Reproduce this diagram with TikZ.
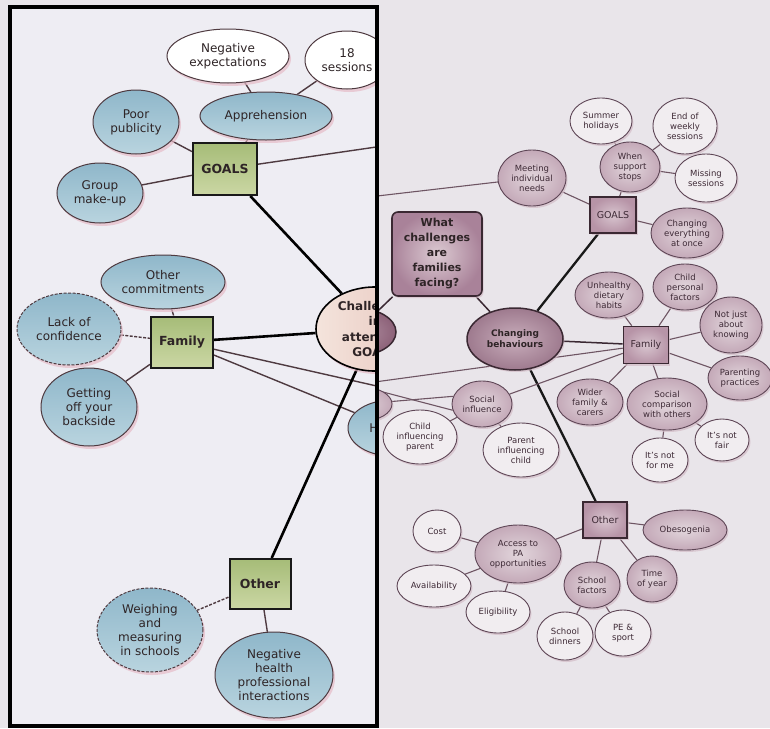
\documentclass[tikz,border=0pt]{standalone}
\usepackage{fontspec}
\setmainfont{DejaVu Sans}
\usetikzlibrary{shapes.geometric,shadows}

% page and panel
\definecolor{pageR}{HTML}{E9E5EA}
\definecolor{pageL}{HTML}{EEEDF3}
% left map
\definecolor{blueA}{HTML}{8FB7CA}
\definecolor{blueB}{HTML}{B9D4DF}
\definecolor{greenA}{HTML}{A6BC78}
\definecolor{greenB}{HTML}{CBD7A4}
\definecolor{inkL}{HTML}{2E2426}
\definecolor{edgeL}{HTML}{4E3A40}
\definecolor{shadeL}{HTML}{E6BCC8}
\definecolor{creamA}{HTML}{F4E4DC}
\definecolor{creamB}{HTML}{E6C2BA}
% right map
\definecolor{rEdge}{HTML}{5E4656}
\definecolor{rDark}{HTML}{3A2832}
\definecolor{inkR}{HTML}{3E2A36}
\definecolor{whiteR}{HTML}{F1EDF0}
\definecolor{mauveL}{HTML}{E2D6DC}
\definecolor{mauveM}{HTML}{C4A9B8}
\definecolor{sqIn}{HTML}{D8C5CF}
\definecolor{sqOut}{HTML}{B794A7}
\definecolor{whatIn}{HTML}{DCCAD2}
\definecolor{whatOut}{HTML}{A98299}
\definecolor{behIn}{HTML}{C9AEBC}
\definecolor{behOut}{HTML}{9E7A8E}
\definecolor{hidIn}{HTML}{B594A6}
\definecolor{hidOut}{HTML}{8C6178}
\definecolor{shadeR}{HTML}{D3BCC7}
\definecolor{lineR}{HTML}{6E5563}

\pgfdeclarelayer{rlines}
\pgfdeclarelayer{rnodes}
\pgfdeclarelayer{panel}
\pgfdeclarelayer{llines}
\pgfsetlayers{rlines,rnodes,panel,llines,main}

\begin{document}
\begin{tikzpicture}[x=1pt,y=-1pt,
  sz/.style 2 args={minimum width=#1pt,minimum height=#2pt},
  lbase/.style={ellipse,inner sep=0pt,align=center,draw=edgeL,line width=1pt,
    text=inkL,font=\fontsize{12}{14}\selectfont,
    drop shadow={shadow xshift=2pt,shadow yshift=-3pt,fill=shadeL,opacity=.7}},
  lblue/.style={lbase,top color=blueA,bottom color=blueB},
  lwhite/.style={lbase,fill=white},
  ldash/.style={dash pattern=on 3pt off 1.5pt},
  lsquare/.style={rectangle,inner sep=0pt,draw=black!90,line width=2pt,
    top color=greenA,bottom color=greenB,text=inkL,
    font=\bfseries\fontsize{12.5}{14}\selectfont},
  lthin/.style={draw=edgeL,line width=1.4pt},
  lthick/.style={draw=black,line width=2.6pt},
  rbase/.style={ellipse,inner sep=0pt,align=center,draw=rEdge,line width=.9pt,
    text=inkR,font=\fontsize{8.5}{10}\selectfont,
    drop shadow={shadow xshift=1.5pt,shadow yshift=-2pt,fill=shadeR,opacity=.7}},
  rwhite/.style={rbase,fill=whiteR},
  rlight/.style={rbase,inner color=mauveL,outer color=mauveM},
  rsquare/.style={rectangle,inner sep=0pt,draw=rDark,line width=1.6pt,
    inner color=sqIn,outer color=sqOut,text=inkR,
    font=\fontsize{9.5}{11}\selectfont,
    drop shadow={shadow xshift=1.5pt,shadow yshift=-2pt,fill=shadeR,opacity=.7}},
  rthin/.style={draw=lineR,line width=1.1pt},
  rmid/.style={draw=rDark,line width=1.5pt},
  rthick/.style={draw=black!90,line width=2.3pt}
]
\useasboundingbox (0,0) rectangle (770,728);

\begin{pgfonlayer}{rlines}
  \fill[pageR] (0,0) rectangle (770,728);
\end{pgfonlayer}

% ---------------- right-hand map ----------------
\begin{pgfonlayer}{rnodes}
  \node[ellipse,draw=rDark,line width=1.5pt,inner color=hidIn,outer color=hidOut,sz={80}{48}] (hidCore) at (356,332) {};
  \node[rlight,sz={60}{34}] (hidSide) at (362,404) {};

  \node[rectangle,rounded corners=6pt,draw=rDark,line width=1.6pt,inner color=whatIn,outer color=whatOut,
        sz={90}{84},align=center,text=inkL,font=\bfseries\fontsize{11}{15}\selectfont,
        drop shadow={shadow xshift=1.5pt,shadow yshift=-2pt,fill=shadeR,opacity=.7}]
        (what) at (437,254) {What\\challenges\\are\\families\\facing?};
  \node[ellipse,draw=rDark,line width=1.5pt,inner color=behIn,outer color=behOut,sz={96}{62},
        align=center,text=inkL,font=\bfseries\fontsize{9}{11}\selectfont,
        drop shadow={shadow xshift=1.5pt,shadow yshift=-2pt,fill=shadeR,opacity=.7}]
        (beh) at (515,339) {Changing\\behaviours};

  \node[rsquare,sz={46}{36}] (goalsR) at (613,215) {GOALS};
  \node[rlight,sz={68}{56}] (meet) at (532,178) {Meeting\\individual\\needs};
  \node[rlight,sz={60}{50}] (when) at (630,167) {When\\support\\stops};
  \node[rwhite,sz={62}{46}] (summer) at (601,121) {Summer\\holidays};
  \node[rwhite,sz={64}{56}] (endw) at (685,126) {End of\\weekly\\sessions};
  \node[rwhite,sz={62}{48}] (missing) at (706,178) {Missing\\sessions};
  \node[rlight,sz={72}{50}] (chall2) at (687,233) {Changing\\everything\\at once};

  \node[rsquare,sz={45}{37}] (famR) at (646,345) {Family};
  \node[rlight,sz={68}{46}] (diet) at (609,295) {Unhealthy\\dietary\\habits};
  \node[rlight,sz={64}{46}] (childp) at (685,287) {Child\\personal\\factors};
  \node[rlight,sz={62}{56}] (notjust) at (731,325) {Not just\\about\\knowing};
  \node[rlight,sz={64}{44}] (parent) at (740,378) {Parenting\\practices};
  \node[rlight,sz={80}{52}] (compare) at (667,404) {Social\\comparison\\with others};
  \node[rlight,sz={66}{46}] (wider) at (590,402) {Wider\\family \&\\carers};
  \node[rwhite,sz={54}{42}] (notfair) at (722,440) {It's not\\fair};
  \node[rwhite,sz={56}{44}] (notme) at (660,460) {It's not\\for me};
  \node[rlight,sz={60}{46}] (social) at (482,404) {Social\\influence};
  \node[rwhite,sz={74}{54}] (childinf) at (420,437) {Child\\influencing\\parent};
  \node[rwhite,sz={76}{54}] (parinf) at (521,450) {Parent\\influencing\\child};

  \node[rsquare,sz={44}{36}] (otherR) at (605,520) {Other};
  \node[rlight,sz={84}{40}] (obeso) at (685,530) {Obesogenia};
  \node[rlight,sz={86}{58}] (access) at (518,554) {Access to\\PA\\opportunities};
  \node[rwhite,sz={48}{42}] (cost) at (437,531) {Cost};
  \node[rwhite,sz={74}{42}] (avail) at (434,586) {Availability};
  \node[rwhite,sz={64}{42}] (elig) at (498,612) {Eligibility};
  \node[rlight,sz={56}{46}] (school) at (592,585) {School\\factors};
  \node[rlight,sz={50}{46}] (time) at (652,579) {Time\\of year};
  \node[rwhite,sz={56}{48}] (dinners) at (565,636) {School\\dinners};
  \node[rwhite,sz={56}{46}] (pe) at (623,633) {PE \&\\sport};
\end{pgfonlayer}

\coordinate (meetEnd) at (360,198);
\coordinate (famEndA) at (360,384);
\coordinate (famEndC) at (360,386);

\begin{pgfonlayer}{rlines}
  \draw[rthin] (meet) -- (meetEnd);
  \draw[rmid] (what) -- (hidCore);
  \draw[rmid] (what) -- (beh);
  \draw[rthick] (beh) -- (goalsR);
  \draw[rmid] (beh) -- (famR);
  \draw[rthick] (beh) -- (otherR);

  \draw[rthin] (goalsR) -- (meet);
  \draw[rthin] (goalsR) -- (when);
  \draw[rthin] (goalsR) -- (chall2);
  \draw[rthin] (when) -- (summer);
  \draw[rthin] (when) -- (endw);
  \draw[rthin] (when) -- (missing);

  \draw[rthin] (famR) -- (diet);
  \draw[rthin] (famR) -- (childp);
  \draw[rthin] (famR) -- (notjust);
  \draw[rthin] (famR) -- (parent);
  \draw[rthin] (famR) -- (compare);
  \draw[rthin] (famR) -- (wider);
  \draw[rthin] (famR) -- (famEndA);
  \draw[rthin] (famR) -- (social);
  \draw[rthin] (compare) -- (notfair);
  \draw[rthin] (compare) -- (notme);
  \draw[rthin] (famEndC) -- (social.192);
  \draw[rthin] (hidSide) -- (social.165);
  \draw[rthin] (social) -- (childinf);
  \draw[rthin] (social) -- (parinf);

  \draw[rthin] (otherR) -- (obeso);
  \draw[rthin] (otherR) -- (access);
  \draw[rthin] (otherR) -- (school);
  \draw[rthin] (otherR) -- (time);
  \draw[rthin] (access) -- (cost);
  \draw[rthin] (access) -- (avail);
  \draw[rthin] (access) -- (elig);
  \draw[rthin] (school) -- (dinners);
  \draw[rthin] (school) -- (pe);
\end{pgfonlayer}

% ---------------- framed left-hand map ----------------
\begin{pgfonlayer}{panel}
  \fill[pageL] (10,7) rectangle (377,726);
\end{pgfonlayer}

\begin{scope}
  \clip (10,7) rectangle (376,726);
  \node[lwhite,sz={122}{54}] (negexp) at (228,56) {Negative\\expectations};
  \node[lwhite,sz={84}{58}] (sess) at (347,60) {18\\sessions};
  \node[lblue,sz={132}{48}] (appr) at (266,116) {Apprehension};
  \node[lblue,sz={86}{64}] (poor) at (136,122) {Poor\\publicity};
  \node[lsquare,sz={64}{52}] (goalsL) at (225,169) {GOALS};
  \node[lblue,sz={86}{60}] (group) at (100,193) {Group\\make-up};
  \node[lblue,sz={124}{54}] (commit) at (163,282) {Other\\commitments};
  \node[lblue,ldash,sz={104}{72}] (lack) at (69,329) {Lack of\\confidence};
  \node[lsquare,sz={62}{51}] (famL) at (182,342) {Family};
  \node[lblue,sz={96}{78}] (getoff) at (89,407) {Getting\\off your\\backside};
  \node[ellipse,inner sep=0pt,draw=black,line width=1.6pt,left color=creamA,right color=creamB,
        sz={118}{84},align=center,text=inkL,font=\bfseries\fontsize{12}{15.5}\selectfont,
        drop shadow={shadow xshift=2pt,shadow yshift=-3pt,fill=shadeL,opacity=.7}]
        (core) at (375,329) {Challenges\\in\\attending\\GOALS};
  \node[lblue,sz={88}{56}] (hnode) at (392,428) {};
  \node[text=inkL,font=\fontsize{12}{14}\selectfont,inner sep=0pt] (hmark) at (374,428) {H};
  \node[lsquare,sz={61}{50}] (otherL) at (260,584) {Other};
  \node[lblue,ldash,sz={106}{84}] (weigh) at (150,630) {Weighing\\and\\measuring\\in schools};
  \node[lblue,sz={118}{86}] (health) at (274,675) {Negative\\health\\professional\\interactions};
\end{scope}

\coordinate (goalsEnd) at (390,145);
\coordinate (famEnd) at (390,389);

\begin{pgfonlayer}{llines}
  \begin{scope}
    \clip (10,7) rectangle (376,726);
    \draw[lthin] (negexp) -- (appr);
    \draw[lthin] (sess) -- (appr);
    \draw[lthin] (appr) -- (goalsL);
    \draw[lthin] (poor) -- (goalsL);
    \draw[lthin] (group) -- (goalsL);
    \draw[lthin] (goalsL) -- (goalsEnd);
    \draw[lthick] (goalsL) -- (core);
    \draw[lthin] (commit) -- (famL);
    \draw[lthin,ldash] (lack) -- (famL);
    \draw[lthin] (getoff) -- (famL);
    \draw[lthick] (famL) -- (core);
    \draw[lthin] (famL) -- (famEnd);
    \draw[lthin] (famL) -- (hnode);
    \draw[lthick] (otherL) -- (core);
    \draw[lthin,ldash] (otherL) -- (weigh);
    \draw[lthin] (otherL) -- (health);
  \end{scope}
\end{pgfonlayer}

\draw[black,line width=3.4pt] (10,7) rectangle (377,726);
\end{tikzpicture}
\end{document}
